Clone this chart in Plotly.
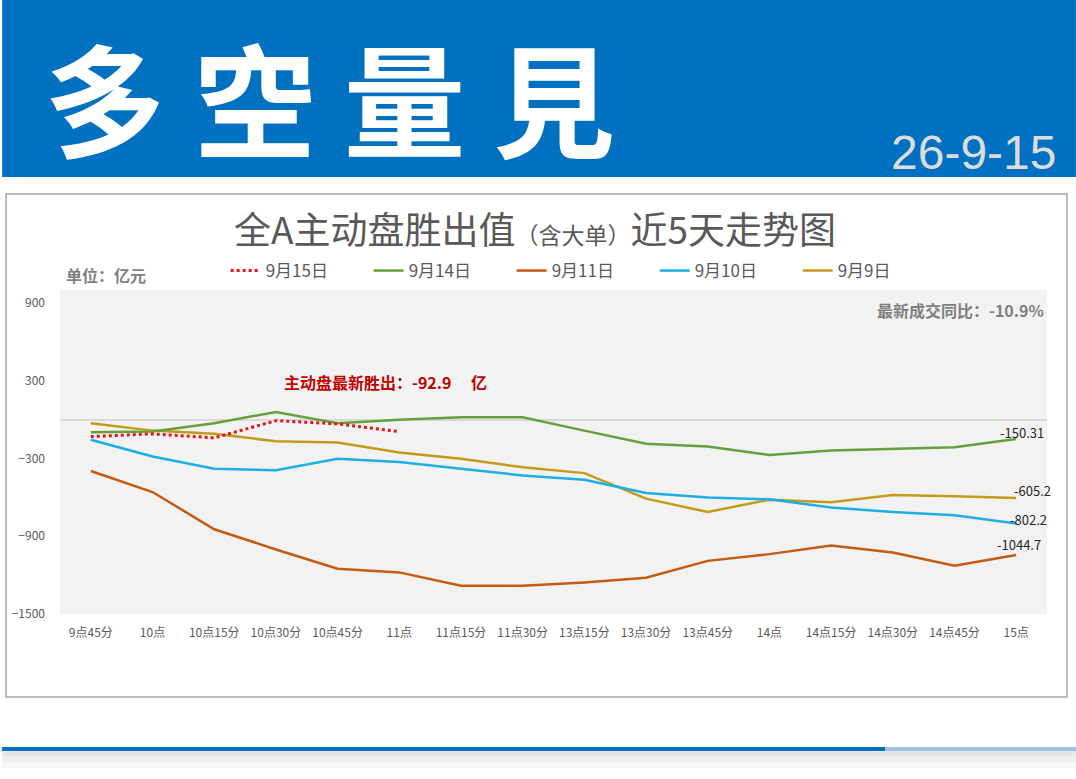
import plotly.graph_objects as go

# x categories and series (亿元)
times = ["9点45分", "10点", "10点15分", "10点30分", "10点45分", "11点", "11点15分", "11点30分",
         "13点15分", "13点30分", "13点45分", "14点", "14点15分", "14点30分", "14点45分", "15点"]
d0915 = [-131, -110, -141, -8, -33, -92.9]
d0914 = [-98, -92, -28, 59, -28, -2, 18, 18, -85, -187, -208, -274, -238, -223, -213, -150.31]
d0911 = [-397, -559, -846, -1002, -1151, -1179, -1282, -1282, -1256, -1220, -1090, -1038,
         -971, -1025, -1128, -1044.7]
d0910 = [-156, -285, -379, -390, -302, -328, -380, -431, -464, -567, -602, -615, -679, -713,
         -738, -802.2]
d0909 = [-28, -85, -110, -167, -177, -254, -302, -367, -413, -610, -713, -618, -638, -582,
         -592, -605.2]
ytick_vals = [-1500, -900, -300, 300, 900]

W, H = 1076, 779
L, R, T, B = 58, 1047, 290, 614
FONT = "Noto Sans CJK SC"


def px(x):
    return (x - L) / (R - L)


def py(y):
    return (B - y) / (B - T)


fig = go.Figure()

series = [
    ("9月9日", d0909, "#C49A1A", "solid", 5),
    ("9月10日", d0910, "#1DAEE6", "solid", 4),
    ("9月11日", d0911, "#C55A11", "solid", 3),
    ("9月14日", d0914, "#65A03A", "solid", 2),
    ("9月15日", d0915, "#E8141B", "dot", 1),
]
for name, vals, color, dash, rank in series:
    fig.add_trace(go.Scatter(
        x=times[:len(vals)], y=vals, name=name, mode="lines", legendrank=rank,
        line=dict(color=color, width=3 if dash == "dot" else 2.5, dash=dash),
    ))


def rect(x0, y0, x1, y1, **kw):
    return dict(type="rect", xref="paper", yref="paper",
                x0=px(x0), x1=px(x1), y0=py(y0), y1=py(y1), **kw)


shapes = [
    rect(0, 0, W, 177, fillcolor="#0070C0", line_width=0),              # header band
    rect(4, 194, 1067, 697, fillcolor="rgba(0,0,0,0)",
         line=dict(color="#A6A6A6", width=1.5)),                          # chart frame
    rect(0, 751, W, 756, fillcolor="#E6E6E6", line_width=0),            # rule shadow
    rect(0, 756, W, 762, fillcolor="#EFEFEF", line_width=0),
    rect(0, 762, W, 768, fillcolor="#F7F7F7", line_width=0),
    rect(0, 747, 885, 751, fillcolor="#0070C0", line_width=0),          # bottom rule
    rect(885, 747, W, 751, fillcolor="#9CC2E6", line_width=0),
]

annotations = [
    dict(x=px(328), y=py(94), text="多 空 量 見", xanchor="center",
         font=dict(size=122, color="white", family="Noto Sans CJK TC", weight=700)),
    dict(x=px(1058), y=py(153), text="26-9-15", xanchor="right",
         font=dict(size=48, color="#DCDCDC", family="Liberation Sans")),
    dict(x=px(534), y=py(228), xanchor="center",
         text="全A主动盘胜出值<span style='font-size:23px'>（含大单）</span>近5天走势图",
         font=dict(size=37, color="#595959", family=FONT)),
    dict(x=px(62), y=py(275), text="<b>单位：亿元</b>", xanchor="left",
         font=dict(size=16, color="#7F7F7F", family=FONT)),
    dict(x=px(1046), y=py(310), text="<b>最新成交同比：-10.9%</b>", xanchor="right",
         font=dict(size=16, color="#808080", family=FONT)),
    dict(x=px(280), y=py(382), text="<b>主动盘最新胜出：-92.9　 亿</b>", xanchor="left",
         font=dict(size=16, color="#C00000", family=FONT)),
]
for a in annotations:
    a.update(xref="paper", yref="paper", yanchor="middle", showarrow=False)

# end-of-line data labels
label_shift = {"9月14日": (6, 7), "9月9日": (16, 8), "9月10日": (12, 4), "9月11日": (3, 10)}
for name, vals, color, dash, rank in series:
    if name in label_shift:
        dx, dy = label_shift[name]
        annotations.append(dict(x=times[len(vals) - 1], y=vals[-1], xref="x", yref="y",
                                text=f"{vals[-1]:g}", showarrow=False, xshift=dx, yshift=dy,
                                font=dict(size=13, color="#262626", family=FONT)))

fig.update_layout(
    width=W, height=H,
    margin=dict(l=L, r=W - R, t=T, b=H - B),
    paper_bgcolor="white", plot_bgcolor="#F2F2F2",
    font=dict(family=FONT, color="#595959"),
    showlegend=True,
    legend=dict(orientation="h", x=px(224), y=py(271), xanchor="left", yanchor="middle",
                entrywidth=98, entrywidthmode="pixels", traceorder="normal",
                font=dict(size=17, color="#595959", family=FONT), bgcolor="rgba(0,0,0,0)"),
    shapes=shapes, annotations=annotations,
)
fig.update_xaxes(type="category", categoryorder="array", categoryarray=times,
                 range=[-0.5, len(times) - 0.5], showgrid=False, showline=False,
                 ticks="", ticklabelstandoff=10, tickangle=0,
                 tickfont=dict(size=12, color="#595959"))
fig.update_yaxes(range=[-1500, 1000], tickvals=ytick_vals, showgrid=False, showline=False,
                 zeroline=True, zerolinecolor="#D9D9D9", zerolinewidth=1.5,
                 ticks="", ticklabelstandoff=14, tickfont=dict(size=12, color="#595959"))

fig.write_html("out.html", config={"displayModeBar": False},
               post_script="document.body.style.margin='0';")
